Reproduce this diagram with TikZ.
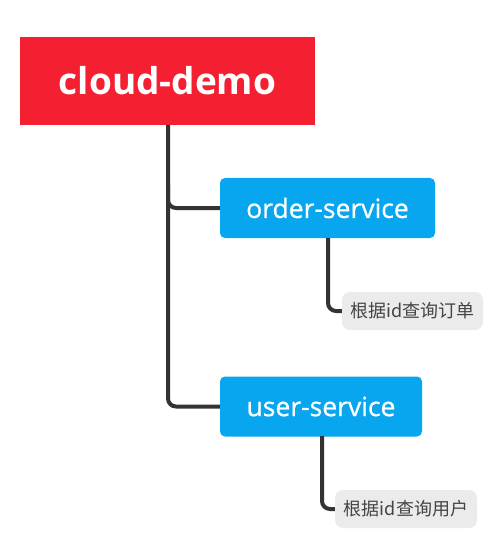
\documentclass[tikz,border=0pt]{standalone}
\usepackage{fontspec}
\usetikzlibrary{calc}
\setmainfont{Open Sans}
\newfontfamily\svcfont[FakeBold=0.8]{Open Sans}
\newfontfamily\cjk{Noto Sans CJK SC}
\definecolor{rootred}{HTML}{F41F31}
\definecolor{svcblue}{HTML}{08A6EF}
\definecolor{leafgray}{HTML}{EBEBEB}
\definecolor{leaftext}{HTML}{444444}
\definecolor{linecol}{HTML}{333333}
\begin{document}
\begin{tikzpicture}[x=1pt,y=-1pt,
  rootbox/.style={fill=rootred,text=white,font=\fontsize{37}{42}\selectfont\bfseries,minimum width=295pt,minimum height=88pt,inner sep=0pt},
  svcbox/.style={fill=svcblue,text=white,font=\svcfont\fontsize{26.5}{30}\selectfont,rounded corners=5pt,minimum height=60pt,inner sep=0pt},
  leafbox/.style={fill=leafgray,text=leaftext,font=\cjk\fontsize{18}{22}\selectfont,rounded corners=8pt,minimum height=38pt,inner sep=0pt},
  conn/.style={draw=linecol,line width=4pt,rounded corners=8pt}]
\useasboundingbox (0,0) rectangle (498,553);
\node[rootbox] (root) at (167.5,81) {cloud-demo};
\node[svcbox,minimum width=215pt] (order) at (327.5,208) {order-service};
\node[svcbox,minimum width=202pt] (user) at (321,406.5) {user-service};
\node[leafbox,minimum width=141pt] (oleaf) at (412.5,311) {根据id查询订单};
\node[leafbox,minimum width=142pt] (uleaf) at (406,509) {根据id查询用户};
\coordinate (trunk) at (168,125);
\coordinate (branch) at (168,185);
\coordinate (odrop) at (328,238);
\coordinate (udrop) at (322,436);
\draw[conn] (trunk) |- (user.west);
\draw[conn] (branch) |- (order.west);
\draw[conn] (odrop) |- (oleaf.west);
\draw[conn] (udrop) |- (uleaf.west);
\end{tikzpicture}
\end{document}
